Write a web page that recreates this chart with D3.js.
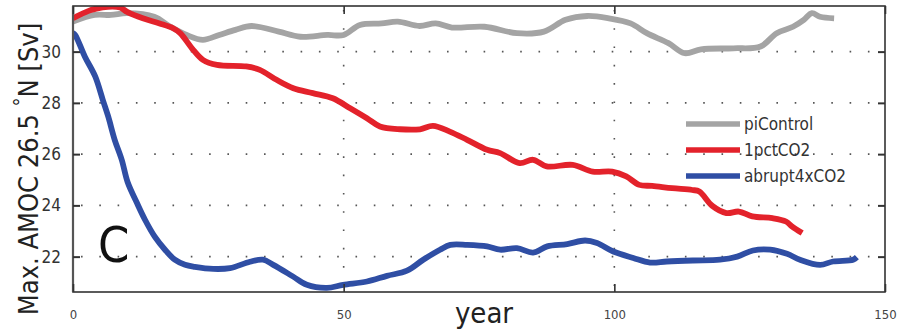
<!DOCTYPE html>
<html><head><meta charset="utf-8">
<script src="https://cdn.jsdelivr.net/npm/d3@7"></script>
<style>
html,body{margin:0;padding:0;background:#fff;}
svg{display:block;}
text{font-family:"Liberation Sans Narrow","DejaVu Sans Condensed","Open Sans",sans-serif;}
</style></head>
<body>
<svg id="chart" width="900" height="332"></svg>
<script>
// ---- data ----
const seriesNames = ["piControl", "1pctCO2", "abrupt4xCO2"];
const xTicks = [0, 50, 100, 150];
const yTicks = [22, 24, 26, 28, 30];

const yearsPi = [0,4,7,10,15,18,21,24,27,30,33,38,42,47,50,53,57,60,64,67,70,76,82,87,91,95,99,103,106,110,113,116,122,127,130,133,135,136.5,138,140.6];
const piControl = [31.17,31.43,31.43,31.5,31.36,30.97,30.65,30.46,30.65,30.85,31.0,30.78,30.58,30.65,30.65,31.04,31.1,31.17,31.0,31.1,30.94,30.97,30.72,30.78,31.24,31.39,31.3,31.1,30.72,30.33,29.94,30.09,30.13,30.2,30.72,30.97,31.24,31.5,31.36,31.3];

const years1pct = [0,3,5.5,8.7,10,12.9,16,18.5,19.8,22.2,24,26.6,32,34.5,37.6,40.7,44.3,48,51.2,54.3,56.7,60.4,64.1,66.5,69.6,72.8,76.5,78.9,82.5,85,87.5,92.3,96,99.6,102.2,104.6,107,110.7,114.4,115.7,118.1,120.7,123,125.5,129.2,131.7,132.8,134.7];
const pct1CO2 = [31.3,31.6,31.73,31.72,31.55,31.3,31.1,30.91,30.72,30.07,29.68,29.48,29.42,29.29,28.9,28.57,28.38,28.18,27.79,27.4,27.08,26.97,26.97,27.1,26.88,26.56,26.17,26.04,25.65,25.78,25.52,25.58,25.32,25.32,25.13,24.8,24.76,24.67,24.6,24.54,23.98,23.7,23.76,23.57,23.5,23.37,23.18,22.92];

const years4x = [0,0.4,2.2,4.1,5.5,6.5,7.7,9.0,10.1,11.8,13.3,15.1,17,18.8,20.7,22.5,25.9,29,32.7,35.1,37,40.6,43.2,46.9,49.9,54.3,58,61.7,64.7,67.8,69.7,72.8,76.5,78.9,82,85,87.6,91.3,94.6,96.8,99.8,103.5,106.6,109.7,114.5,119.5,122.7,125.6,128.8,131.9,134.3,138,140.4,144.1,144.8];
const abrupt4x = [30.72,30.65,29.8,29.03,28.12,27.47,26.56,25.78,24.9,24.1,23.44,22.78,22.27,21.88,21.68,21.6,21.52,21.55,21.8,21.88,21.68,21.23,20.9,20.78,20.9,21.03,21.25,21.45,21.88,22.27,22.46,22.46,22.4,22.27,22.33,22.16,22.4,22.49,22.63,22.53,22.2,21.95,21.77,21.81,21.85,21.88,22.0,22.24,22.27,22.11,21.88,21.68,21.81,21.88,21.98];

// ---- layout ----
const L = 73, R = 885, T = 6, B = 292;
const svg = d3.select("#chart");
const x = d3.scaleLinear().domain([0, 150]).range([L, R]);
const y = d3.scaleLinear().domain([20.62, 31.78]).range([B, T]);

const colors = {"piControl": "#a4a4a4", "1pctCO2": "#e3222b", "abrupt4xCO2": "#2f4ea4"};

// grid (dotted)
const grid = svg.append("g");
grid.selectAll("line.h").data(yTicks).join("line")
  .attr("x1", L).attr("x2", R).attr("y1", d => y(d)).attr("y2", d => y(d))
  .attr("stroke", "#555").attr("stroke-width", 1.6).attr("stroke-dasharray", "1.6,16.7")
  .attr("stroke-dashoffset", -8);
grid.selectAll("line.v").data(xTicks.filter(d => d > 0 && d < 150)).join("line")
  .attr("x1", d => x(d)).attr("x2", d => x(d)).attr("y1", B).attr("y2", T)
  .attr("stroke", "#555").attr("stroke-width", 1.6).attr("stroke-dasharray", "1.6,16.7")
  .attr("stroke-dashoffset", -6);

// series lines
const series = [
  {name: "piControl", xs: yearsPi, vs: piControl},
  {name: "1pctCO2", xs: years1pct, vs: pct1CO2},
  {name: "abrupt4xCO2", xs: years4x, vs: abrupt4x}
];
const line = d3.line().x(d => x(d[0])).y(d => y(d[1])).curve(d3.curveCatmullRom.alpha(0.5));
svg.append("clipPath").attr("id", "clip").append("rect").attr("x", L).attr("y", T).attr("width", R - L).attr("height", B - T);
const plot = svg.append("g").attr("clip-path", "url(#clip)");
series.forEach(s => {
  plot.append("path").datum(s.xs.map((v, i) => [v, s.vs[i]]))
    .attr("d", line).attr("fill", "none")
    .attr("stroke", colors[s.name]).attr("stroke-width", 5.8)
    .attr("stroke-linejoin", "round").attr("stroke-linecap", "butt");
});

// frame
svg.append("rect").attr("x", L).attr("y", T).attr("width", R - L).attr("height", B - T)
  .attr("fill", "none").attr("stroke", "#333").attr("stroke-width", 1.6);
svg.append("line").attr("x1", L).attr("x2", L).attr("y1", T).attr("y2", B)
  .attr("stroke", "#555").attr("stroke-width", 2.2);

// axes with inward ticks
const yAxisL = d3.axisLeft(y).tickValues(yTicks).tickSize(-7).tickPadding(12).tickFormat(d3.format("d"));
const gy = svg.append("g").attr("transform", `translate(${L},0)`).call(yAxisL);
gy.select(".domain").remove();
gy.selectAll(".tick line").attr("stroke", "#333").attr("stroke-width", 2);
gy.selectAll(".tick text").attr("font-size", 17).attr("fill", "#333");

const yAxisR = d3.axisRight(y).tickValues(yTicks).tickSize(-7).tickFormat("");
const gyr = svg.append("g").attr("transform", `translate(${R},0)`).call(yAxisR);
gyr.select(".domain").remove();
gyr.selectAll(".tick line").attr("stroke", "#333").attr("stroke-width", 2);

const xAxisB = d3.axisBottom(x).tickValues(xTicks).tickSize(-8).tickPadding(18).tickFormat(d3.format("d"));
const gx = svg.append("g").attr("transform", `translate(0,${B})`).call(xAxisB);
gx.select(".domain").remove();
gx.selectAll(".tick line").attr("stroke", "#333").attr("stroke-width", 1.6);
gx.selectAll(".tick text").attr("font-size", 13).attr("fill", "#444");

const xAxisT = d3.axisTop(x).tickValues(xTicks).tickSize(-8).tickFormat("");
const gxt = svg.append("g").attr("transform", `translate(0,${T})`).call(xAxisT);
gxt.select(".domain").remove();
gxt.selectAll(".tick line").attr("stroke", "#333").attr("stroke-width", 1.6);

// axis labels
svg.append("text").attr("x", 484).attr("y", 323).attr("text-anchor", "middle")
  .attr("font-size", 29).attr("fill", "#222").text("year");
const yl = svg.append("text").attr("transform", "translate(38,169) rotate(-90)")
  .attr("text-anchor", "middle").attr("font-size", 27).attr("fill", "#222");
yl.append("tspan").text("Max. AMOC 26.5 ");
yl.append("tspan").attr("dy", -10).attr("font-size", 20).text("°");
yl.append("tspan").attr("dy", 10).text("N [Sv]");

// panel letter
svg.append("text").attr("x", 98).attr("y", 262).attr("font-size", 50)
  .attr("fill", "#111").text("C");

// legend
const lg = svg.append("g");
seriesNames.forEach((n, i) => {
  const ly = 124 + i * 26;
  lg.append("line").attr("x1", 686).attr("x2", 740).attr("y1", ly).attr("y2", ly)
    .attr("stroke", colors[n]).attr("stroke-width", 5.5);
  lg.append("text").attr("x", 744).attr("y", ly + 6).attr("font-size", 17).attr("fill", "#333").text(n);
});
</script>
</body></html>
